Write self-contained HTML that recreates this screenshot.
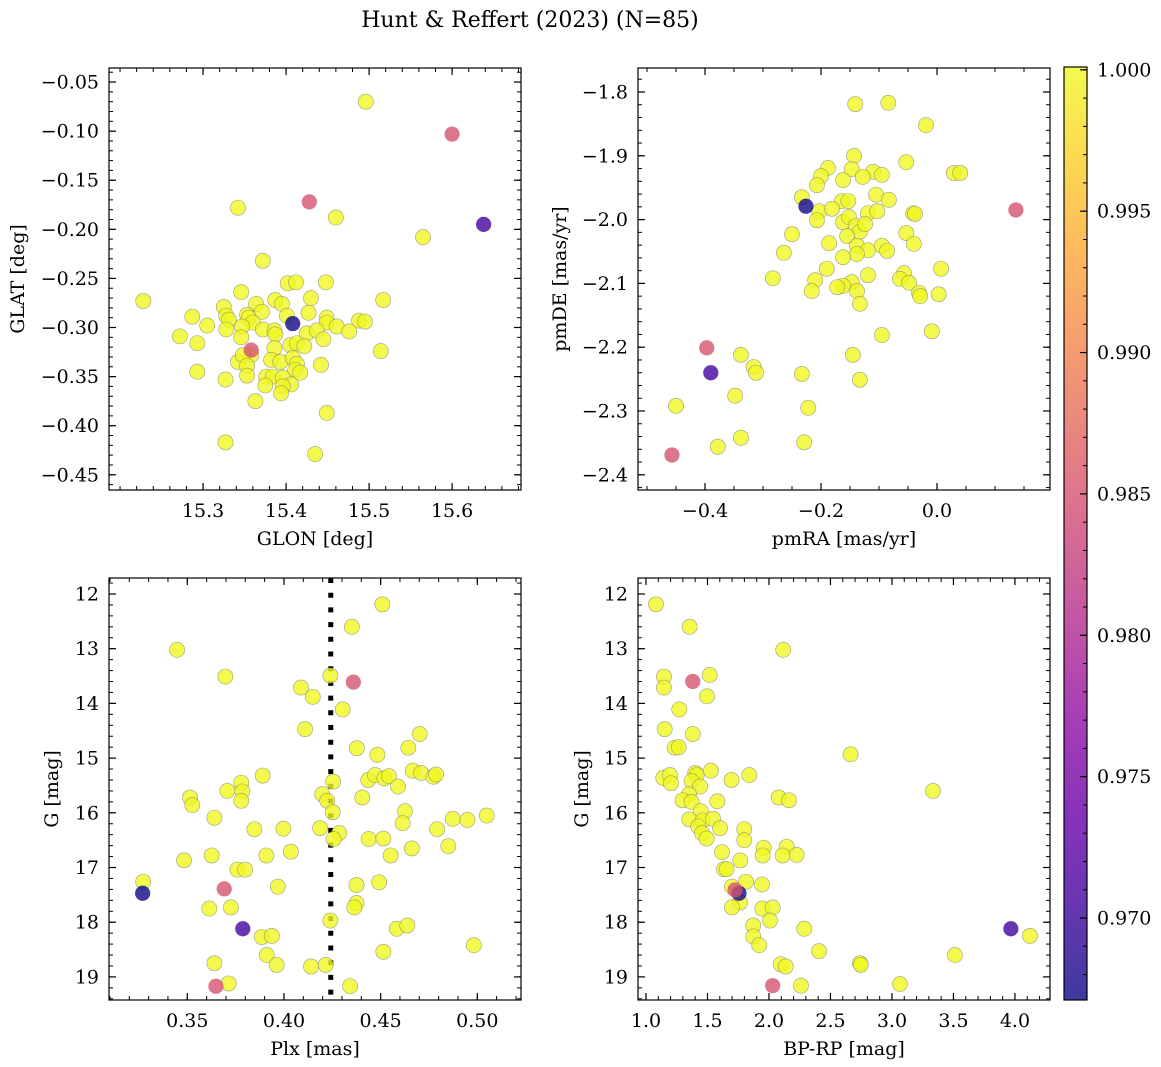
<!DOCTYPE html>
<html><head><meta charset="utf-8">
<style>
html,body{margin:0;padding:0;background:#fff;}
svg{display:block;font-family:"DejaVu Serif","Liberation Serif",serif;}
</style></head>
<body>
<svg id="fig" width="1161" height="1067" viewBox="0 0 1161 1067" xmlns="http://www.w3.org/2000/svg">
<defs>
<linearGradient id="plasmaGrad" x1="0" y1="1" x2="0" y2="0">
<stop offset="0" stop-color="#0d0887"/><stop offset="0.1" stop-color="#41049d"/><stop offset="0.2" stop-color="#6a00a8"/><stop offset="0.3" stop-color="#8f0da4"/><stop offset="0.4" stop-color="#b12a90"/><stop offset="0.5" stop-color="#cc4778"/><stop offset="0.6" stop-color="#e16462"/><stop offset="0.7" stop-color="#f2844b"/><stop offset="0.8" stop-color="#fca636"/><stop offset="0.9" stop-color="#fcce25"/><stop offset="1" stop-color="#f0f921"/>
</linearGradient>
</defs>
<text x="530" y="27" font-size="22" text-anchor="middle">Hunt &amp; Reffert (2023) (N=85)</text>
</svg>
<script>
// ---------- Panel 1: GLON / GLAT ----------
const p1X = [15.228,15.372,15.402,15.412,15.448,15.346,15.517,15.430,15.387,15.395,15.364,15.325,15.371,15.287,15.427,15.328,15.331,15.353,15.355,15.360,15.401,15.449,15.449,15.488,15.495,15.305,15.328,15.347,15.372,15.386,15.387,15.425,15.437,15.445,15.461,15.476,15.272,15.346,15.293,15.405,15.413,15.422,15.386,15.358,15.342,15.348,15.382,15.393,15.408,15.413,15.514,15.442,15.353,15.411,15.417,15.293,15.327,15.353,15.376,15.384,15.396,15.406,15.375,15.396,15.394,15.363,15.449,15.327,15.435,15.496,15.460,15.342,15.565];
const p1Y = [-0.273,-0.232,-0.255,-0.254,-0.254,-0.264,-0.272,-0.270,-0.272,-0.276,-0.276,-0.279,-0.284,-0.289,-0.285,-0.288,-0.292,-0.287,-0.290,-0.295,-0.288,-0.290,-0.295,-0.293,-0.294,-0.298,-0.302,-0.299,-0.302,-0.303,-0.307,-0.306,-0.303,-0.312,-0.299,-0.304,-0.309,-0.310,-0.316,-0.318,-0.316,-0.319,-0.321,-0.328,-0.335,-0.328,-0.333,-0.335,-0.331,-0.337,-0.324,-0.338,-0.339,-0.343,-0.346,-0.345,-0.353,-0.349,-0.350,-0.350,-0.351,-0.358,-0.359,-0.360,-0.367,-0.375,-0.387,-0.417,-0.429,-0.070,-0.188,-0.178,-0.208];
const p1SpecX = [15.600,15.428,15.638,15.408,15.358];
const p1SpecY = [-0.103,-0.172,-0.195,-0.296,-0.323];
const p1SpecP = [0.985,0.985,0.9705,0.9672,0.985];

// ---------- Panel 2: pmRA / pmDE ----------
const p2X = [-0.141,-0.084,-0.019,-0.143,-0.053,0.029,0.040,-0.188,-0.147,-0.200,-0.110,-0.095,-0.128,-0.162,-0.207,-0.233,-0.105,-0.164,-0.153,-0.083,-0.203,-0.181,-0.207,-0.119,-0.103,-0.041,-0.038,-0.162,-0.152,-0.140,-0.133,-0.124,-0.155,-0.250,-0.053,-0.186,-0.138,-0.119,-0.095,-0.086,-0.138,-0.040,-0.264,-0.162,-0.190,0.007,-0.119,-0.283,-0.210,-0.057,-0.064,-0.048,-0.147,-0.162,-0.172,-0.138,-0.216,-0.031,-0.029,0.003,-0.133,-0.095,-0.009,-0.338,-0.145,-0.316,-0.312,-0.233,-0.133,-0.348,-0.450,-0.222,-0.338,-0.378,-0.229];
const p2Y = [-1.819,-1.817,-1.852,-1.900,-1.910,-1.927,-1.927,-1.919,-1.921,-1.932,-1.925,-1.930,-1.933,-1.938,-1.946,-1.965,-1.961,-1.971,-1.971,-1.969,-1.987,-1.983,-2.001,-1.990,-1.987,-1.990,-1.991,-2.004,-1.996,-2.010,-2.019,-2.007,-2.026,-2.023,-2.021,-2.037,-2.041,-2.048,-2.041,-2.049,-2.054,-2.038,-2.052,-2.059,-2.077,-2.077,-2.087,-2.092,-2.095,-2.084,-2.093,-2.099,-2.098,-2.104,-2.106,-2.112,-2.112,-2.115,-2.120,-2.117,-2.132,-2.181,-2.175,-2.212,-2.212,-2.231,-2.240,-2.242,-2.251,-2.276,-2.292,-2.295,-2.342,-2.356,-2.349];
const p2SpecX = [0.136,-0.226,-0.397,-0.390,-0.457];
const p2SpecY = [-1.985,-1.979,-2.201,-2.240,-2.369];
const p2SpecP = [0.985,0.9672,0.985,0.9705,0.985];

// ---------- Panel 3: Plx / G ----------
const p3X = [0.4509,0.4351,0.3447,0.3697,0.4240,0.4088,0.4149,0.4304,0.4109,0.4702,0.4377,0.4643,0.4483,0.3890,0.3779,0.3707,0.3785,0.3779,0.3514,0.3526,0.4254,0.4198,0.4224,0.4436,0.4471,0.4519,0.4543,0.4590,0.4666,0.4709,0.4773,0.4787,0.4405,0.4626,0.4614,0.4873,0.4949,0.5049,0.4792,0.4850,0.4252,0.4286,0.4257,0.4187,0.3997,0.3847,0.3640,0.4036,0.3909,0.3626,0.3483,0.4438,0.4514,0.4552,0.4661,0.3759,0.3799,0.3272,0.3968,0.4375,0.4492,0.3614,0.3726,0.4375,0.4364,0.4240,0.3885,0.3937,0.4583,0.4638,0.4982,0.4514,0.3911,0.3640,0.3962,0.4140,0.4216,0.3714,0.4342];
const p3Y = [12.19,12.60,13.02,13.51,13.49,13.71,13.88,14.11,14.47,14.56,14.82,14.81,14.94,15.32,15.45,15.60,15.61,15.78,15.72,15.86,15.43,15.66,15.78,15.40,15.31,15.37,15.33,15.52,15.23,15.27,15.34,15.30,15.72,15.97,16.19,16.11,16.13,16.05,16.30,16.61,15.99,16.37,16.48,16.28,16.29,16.30,16.09,16.71,16.78,16.78,16.87,16.48,16.47,16.78,16.65,17.04,17.04,17.26,17.35,17.32,17.27,17.75,17.73,17.65,17.73,17.97,18.27,18.25,18.12,18.06,18.42,18.54,18.60,18.75,18.78,18.81,18.78,19.12,19.17];
const p3SpecX = [0.4359,0.3269,0.3691,0.3787,0.3648];
const p3SpecY = [13.61,17.47,17.39,18.12,19.17];
const p3SpecP = [0.985,0.9672,0.985,0.9705,0.985];
const p3RefPlx = [0.4242];

// ---------- Panel 4: BP-RP / G ----------
const p4X = [1.081,1.355,2.116,1.146,1.146,1.518,1.496,1.271,1.152,1.380,1.233,1.266,2.664,1.141,1.195,1.203,1.401,1.412,1.371,1.439,1.528,1.696,1.840,1.350,1.298,1.371,1.580,2.079,2.163,1.445,1.352,1.461,1.545,1.425,1.602,1.455,1.493,1.799,1.799,1.618,1.957,1.949,2.144,2.111,2.225,1.767,1.634,1.656,1.813,1.943,1.699,1.764,1.699,1.946,2.030,2.008,1.872,1.872,1.921,2.287,2.407,2.095,2.136,2.740,2.746,2.260,3.333,4.122,3.512,3.065];
const p4Y = [12.19,12.60,13.02,13.51,13.71,13.48,13.87,14.11,14.47,14.56,14.81,14.80,14.93,15.36,15.31,15.46,15.27,15.31,15.42,15.52,15.23,15.40,15.31,15.66,15.77,15.80,15.79,15.72,15.77,15.97,16.12,16.14,16.11,16.25,16.28,16.37,16.47,16.30,16.50,16.72,16.64,16.78,16.62,16.78,16.77,16.87,17.03,17.03,17.26,17.31,17.35,17.64,17.73,17.75,17.73,17.97,18.06,18.26,18.42,18.12,18.53,18.77,18.81,18.75,18.78,19.16,15.60,18.25,18.60,19.13];
const p4SpecX = [1.380,1.756,1.724,3.967,2.030];
const p4SpecY = [13.60,17.47,17.41,18.12,19.16];
const p4SpecP = [0.985,0.9672,0.985,0.9705,0.985];

// ---------- Tick labels ----------
const p1XTicks = [15.3,15.4,15.5,15.6];
const p1YTicks = [-0.05,-0.10,-0.15,-0.20,-0.25,-0.30,-0.35,-0.40,-0.45];
const p2XTicks = [-0.4,-0.2,0.0];
const p2YTicks = [-1.8,-1.9,-2.0,-2.1,-2.2,-2.3,-2.4];
const p3XTicks = [0.35,0.40,0.45,0.50];
const gTicks = [12,13,14,15,16,17,18,19];
const p4XTicks = [1.0,1.5,2.0,2.5,3.0,3.5,4.0];
const cbTicks = [0.970,0.975,0.980,0.985,0.990,0.995,1.000];
const cbMin = 0.9671, cbMax = 1.0001;

const NS = "http://www.w3.org/2000/svg";
const svg = document.getElementById('fig');
const FS = 19;
const stops = ["#0d0887","#41049d","#6a00a8","#8f0da4","#b12a90","#cc4778","#e16462","#f2844b","#fca636","#fcce25","#f0f921"];
function hex(h){return [parseInt(h.substr(1,2),16),parseInt(h.substr(3,2),16),parseInt(h.substr(5,2),16)];}
function plasma(v){
  let t=(v-cbMin)/(cbMax-cbMin); t=Math.max(0,Math.min(1,t));
  const f=t*10, i=Math.min(9,Math.floor(f)), r=f-i;
  const a=hex(stops[i]), b=hex(stops[i+1]);
  return 'rgb('+a.map((c,k)=>Math.round(c+(b[k]-c)*r)).join(',')+')';
}
function el(tag, attrs, parent){
  const e=document.createElementNS(NS,tag);
  for(const k in attrs) e.setAttribute(k,attrs[k]);
  (parent||svg).appendChild(e);
  return e;
}
function fmt(v,d){const s=v.toFixed(d);return s.replace('-','\u2212');}

function panel(cfg){
  const g=el('g',{});
  
  
  const L=cfg.box[0],T=cfg.box[1],R=cfg.box[2],B=cfg.box[3];
  const sx=v=>L+(v-cfg.xr[0])/(cfg.xr[1]-cfg.xr[0])*(R-L);
  const sy=v=>T+(v-cfg.yr[0])/(cfg.yr[1]-cfg.yr[0])*(B-T);
  const clip=el('clipPath',{id:'c'+cfg.name},g);
  el('rect',{x:L,y:T,width:R-L,height:B-T},clip);
  const pts=el('g',{'clip-path':'url(#c'+cfg.name+')'},g);
  if(cfg.vline){
    const ln=el('line',{x1:sx(cfg.vline[0]),x2:sx(cfg.vline[0]),y1:T,y2:B,stroke:'#000','stroke-width':5,'stroke-dasharray':'5 9.7'},pts);
    
    
  }
  for(let i=0;i<cfg.x.length;i++){
    const c=el('circle',{cx:sx(cfg.x[i]),cy:sy(cfg.y[i]),r:7.6,fill:plasma(1.0),'fill-opacity':0.8,stroke:'#777','stroke-opacity':0.7,'stroke-width':0.6},pts);
    
    
  }
  for(let i=0;i<cfg.sx.length;i++){
    const c=el('circle',{cx:sx(cfg.sx[i]),cy:sy(cfg.sy[i]),r:7.6,fill:plasma(cfg.sp[i]),'fill-opacity':0.8,stroke:'none'},pts);
    
    
  }
  el('rect',{x:L,y:T,width:R-L,height:B-T,fill:'none',stroke:'#000','stroke-width':1.2},g);
  const xm=cfg.xminor, ym=cfg.yminor;
  const x0=Math.ceil(Math.min(cfg.xr[0],cfg.xr[1])/xm-1e-6), x1=Math.floor(Math.max(cfg.xr[0],cfg.xr[1])/xm+1e-6);
  for(let k=x0;k<=x1;k++){const X=sx(k*xm);
    el('line',{x1:X,x2:X,y1:B,y2:B-4,stroke:'#000','stroke-width':1},g);
    el('line',{x1:X,x2:X,y1:T,y2:T+4,stroke:'#000','stroke-width':1},g);}
  const y0=Math.ceil(Math.min(cfg.yr[0],cfg.yr[1])/ym-1e-6), y1=Math.floor(Math.max(cfg.yr[0],cfg.yr[1])/ym+1e-6);
  for(let k=y0;k<=y1;k++){const Y=sy(k*ym);
    el('line',{x1:L,x2:L+4,y1:Y,y2:Y,stroke:'#000','stroke-width':1},g);
    el('line',{x1:R,x2:R-4,y1:Y,y2:Y,stroke:'#000','stroke-width':1},g);}
  cfg.xt.forEach(v=>{const X=sx(v);
    el('line',{x1:X,x2:X,y1:B,y2:B-7,stroke:'#000','stroke-width':1.2},g);
    el('line',{x1:X,x2:X,y1:T,y2:T+7,stroke:'#000','stroke-width':1.2},g);
    const t=el('text',{x:X,y:B+27,'font-size':FS,'text-anchor':'middle'},g);
    t.textContent=fmt(v,cfg.xd);
    
    
  });
  cfg.yt.forEach(v=>{const Y=sy(v);
    el('line',{x1:L,x2:L+7,y1:Y,y2:Y,stroke:'#000','stroke-width':1.2},g);
    el('line',{x1:R,x2:R-7,y1:Y,y2:Y,stroke:'#000','stroke-width':1.2},g);
    const t=el('text',{x:L-10,y:Y+6.5,'font-size':FS,'text-anchor':'end'},g);
    t.textContent=fmt(v,cfg.yd);
    
    
  });
  const xl=el('text',{x:(L+R)/2,y:B+55,'font-size':FS,'text-anchor':'middle'},g);
  xl.textContent=cfg.xlabel;
  
  
  const yl=el('text',{x:cfg.ylx,y:(T+B)/2,'font-size':FS,'text-anchor':'middle',transform:'rotate(-90 '+cfg.ylx+' '+((T+B)/2)+')'},g);
  yl.textContent=cfg.ylabel;
  
  
}

panel({name:'panel-glon-glat',box:[109,68,521,490],xr:[15.1867,15.683],yr:[-0.0357,-0.4655],
  x:p1X,y:p1Y,sx:p1SpecX,sy:p1SpecY,sp:p1SpecP,xt:p1XTicks,yt:p1YTicks,xd:1,yd:2,xminor:0.02,yminor:0.01,
  xlabel:'GLON [deg]',ylabel:'GLAT [deg]',ylx:24});
panel({name:'panel-pmra-pmde',box:[638,68,1050,490],xr:[-0.5155,0.1948],yr:[-1.7624,-2.4238],
  x:p2X,y:p2Y,sx:p2SpecX,sy:p2SpecY,sp:p2SpecP,xt:p2XTicks,yt:p2YTicks,xd:1,yd:1,xminor:0.05,yminor:0.02,
  xlabel:'pmRA [mas/yr]',ylabel:'pmDE [mas/yr]',ylx:566});
panel({name:'panel-plx-g',box:[109,578,521,1000],xr:[0.3095,0.5226],yr:[11.7075,19.422],
  x:p3X,y:p3Y,sx:p3SpecX,sy:p3SpecY,sp:p3SpecP,xt:p3XTicks,yt:gTicks,xd:2,yd:0,xminor:0.01,yminor:0.2,
  xlabel:'Plx [mas]',ylabel:'G [mag]',ylx:58,vline:p3RefPlx});
panel({name:'panel-bprp-g',box:[638,578,1050,1000],xr:[0.935,4.285],yr:[11.7075,19.422],
  x:p4X,y:p4Y,sx:p4SpecX,sy:p4SpecY,sp:p4SpecP,xt:p4XTicks,yt:gTicks,xd:1,yd:0,xminor:0.1,yminor:0.2,
  xlabel:'BP-RP [mag]',ylabel:'G [mag]',ylx:588});

(function(){
  const L=1064,R=1087,T=67,B=1000;
  const cg=el('g',{});
  
  
  el('rect',{x:L,y:T,width:R-L,height:B-T,fill:'url(#plasmaGrad)','fill-opacity':0.8},cg);
  el('rect',{x:L,y:T,width:R-L,height:B-T,fill:'none',stroke:'#000','stroke-width':1.2},cg);
  const sy=v=>B-(v-cbMin)/(cbMax-cbMin)*(B-T);
  for(let k=968;k<=1000;k++){const Y=sy(k/1000);
    el('line',{x1:R,x2:R-4,y1:Y,y2:Y,stroke:'#000','stroke-width':1},cg);}
  cbTicks.forEach(v=>{const Y=sy(v);
    el('line',{x1:R,x2:R-7,y1:Y,y2:Y,stroke:'#000','stroke-width':1.2},cg);
    const t=el('text',{x:R+10,y:Y+6.5,'font-size':FS},cg);
    t.textContent=v.toFixed(3);
    
    
  });
})();
</script>
</body></html>
